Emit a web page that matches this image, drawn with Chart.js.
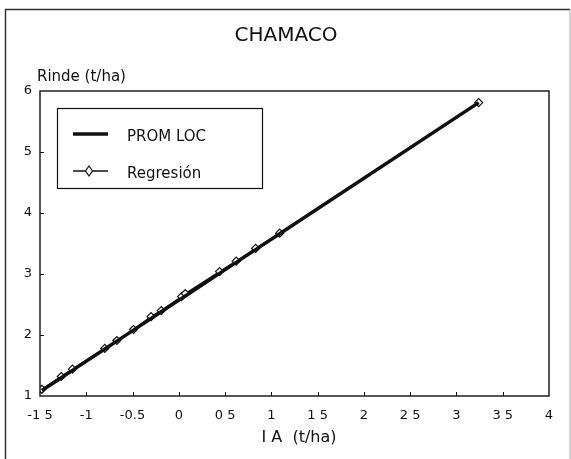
<!DOCTYPE html>
<html>
<head>
<meta charset="utf-8">
<title>CHAMACO</title>
<script src="https://cdn.jsdelivr.net/npm/chart.js@4.4.0/dist/chart.umd.min.js"></script>
<style>
    body { margin: 0; background: #fff; }
    canvas { display: block; }
</style>
</head>
<body>
<canvas id="miGrafico" width="571" height="459"></canvas>
<script>
// Datos
const indiceAmbiental = [-1.48, -1.27, -1.15, -0.80, -0.67, -0.49, -0.30, -0.19, 0.03, 0.07, 0.44, 0.62, 0.83, 1.09, 3.24];
const promLoc = [1.09, 1.30, 1.42, 1.77, 1.90, 2.08, 2.27, 2.38, 2.60, 2.64, 3.01, 3.19, 3.40, 3.66, 5.81];
const regresion = [1.11, 1.32, 1.44, 1.78, 1.91, 2.09, 2.30, 2.40, 2.63, 2.68, 3.04, 3.21, 3.42, 3.67, 5.81];

// Etiquetas de los ejes tal como aparecen
const etiquetasX = ["-1 5", "-1", "-0.5", "0", "0 5", "1", "1 5", "2", "2 5", "3", "3 5", "4"];
const etiquetasY = ["1", "2", "3", "4", "5", "6"];

const fuente = "'DejaVu Sans', 'Liberation Sans', sans-serif";
const tinta = '#111';

// Función para armar los puntos {x, y}
function armarPuntos(xs, ys) {
    return xs.map((x, i) => ({ x: x, y: ys[i] }));
}

// Plugin para el marco, las marcas de los ejes, los textos y la leyenda
const decoracion = {
    id: 'decoracion',
    afterDraw(chart) {
        const ctx = chart.ctx;
        const area = chart.chartArea;
        const sx = chart.scales.x;
        const sy = chart.scales.y;

        ctx.save();
        // Marco exterior
        ctx.strokeStyle = '#333';
        ctx.lineWidth = 1.5;
        ctx.beginPath();
        ctx.moveTo(5.5, 459);
        ctx.lineTo(5.5, 9.5);
        ctx.lineTo(570, 9.5);
        ctx.stroke();
        ctx.strokeStyle = '#aaa';
        ctx.lineWidth = 1;
        ctx.beginPath();
        ctx.moveTo(570, 9.5);
        ctx.lineTo(570, 459);
        ctx.stroke();

        // Marco del área del gráfico
        ctx.strokeStyle = tinta;
        ctx.lineWidth = 1.4;
        ctx.strokeRect(area.left, area.top, area.right - area.left, area.bottom - area.top);

        // Marcas hacia adentro
        ctx.lineWidth = 1;
        ctx.beginPath();
        sx.ticks.forEach((t) => {
            if (t.value > sx.min && t.value < sx.max) {
                const px = Math.round(sx.getPixelForValue(t.value)) + 0.5;
                ctx.moveTo(px, area.bottom);
                ctx.lineTo(px, area.bottom - 4);
            }
        });
        sy.ticks.forEach((t) => {
            if (t.value > sy.min && t.value < sy.max) {
                const py = Math.round(sy.getPixelForValue(t.value)) + 0.5;
                ctx.moveTo(area.left, py);
                ctx.lineTo(area.left + 4, py);
            }
        });
        ctx.stroke();

        // Textos
        ctx.fillStyle = tinta;
        ctx.textBaseline = 'middle';
        ctx.textAlign = 'center';
        ctx.font = '20px ' + fuente;
        ctx.fillText('CHAMACO', 286, 36);
        ctx.font = '16px ' + fuente;
        ctx.fillText('I A  (t/ha)', 299, 438);
        ctx.textAlign = 'left';
        ctx.font = '15px ' + fuente;
        ctx.fillText('Rinde (t/ha)', 37, 77);

        // Leyenda
        const ds = chart.data.datasets;
        ctx.strokeStyle = tinta;
        ctx.lineWidth = 1.2;
        ctx.strokeRect(57.5, 108.5, 205, 80);
        ctx.font = '15px ' + fuente;
        const filas = [134, 171];
        ds.forEach((d, i) => {
            const y = filas[i];
            ctx.strokeStyle = d.borderColor;
            ctx.lineWidth = Math.max(d.borderWidth, 1.6);
            ctx.beginPath();
            ctx.moveTo(73, y);
            ctx.lineTo(108, y);
            ctx.stroke();
            if (d.pointRadius > 0) {
                ctx.fillStyle = d.pointBackgroundColor;
                ctx.lineWidth = d.pointBorderWidth;
                ctx.beginPath();
                ctx.moveTo(89, y - 5);
                ctx.lineTo(92.5, y);
                ctx.lineTo(89, y + 5);
                ctx.lineTo(85.5, y);
                ctx.closePath();
                ctx.fill();
                ctx.stroke();
            }
            ctx.fillStyle = tinta;
            ctx.fillText(d.label, 127, y + 3);
        });
        ctx.restore();
    }
};

// Función para crear el gráfico
function crearGrafico() {
    const ctx = document.getElementById('miGrafico').getContext('2d');
    return new Chart(ctx, {
        type: 'scatter',
        data: {
            datasets: [{
                label: 'PROM LOC',
                data: armarPuntos(indiceAmbiental, promLoc),
                showLine: true,
                borderColor: tinta,
                borderWidth: 3.5,
                pointRadius: 0,
                pointHoverRadius: 0
            }, {
                label: 'Regresión',
                data: armarPuntos(indiceAmbiental, regresion),
                showLine: true,
                borderColor: tinta,
                borderWidth: 1.5,
                pointStyle: 'rectRot',
                pointRadius: 4,
                pointBackgroundColor: '#fff',
                pointBorderColor: tinta,
                pointBorderWidth: 1.2
            }]
        },
        options: {
            responsive: false,
            animation: false,
            layout: { padding: { top: 91, right: 22, left: 0, bottom: 0 } },
            plugins: {
                legend: { display: false },
                title: { display: false },
                tooltip: { enabled: false }
            },
            scales: {
                x: {
                    type: 'linear',
                    min: -1.5,
                    max: 4,
                    grid: { display: false, drawTicks: false },
                    border: { display: false },
                    afterFit: (scale) => { scale.height = 63; },
                    ticks: {
                        stepSize: 0.5,
                        padding: 12,
                        maxRotation: 0,
                        autoSkip: false,
                        color: tinta,
                        font: { family: fuente, size: 13 },
                        callback: (valor) => etiquetasX[Math.round((valor + 1.5) * 2)]
                    }
                },
                y: {
                    type: 'linear',
                    min: 1,
                    max: 6,
                    grid: { display: false, drawTicks: false },
                    border: { display: false },
                    afterFit: (scale) => { scale.width = 40; },
                    ticks: {
                        stepSize: 1,
                        padding: 8,
                        color: tinta,
                        font: { family: fuente, size: 13 },
                        callback: (valor) => etiquetasY[Math.round(valor - 1)]
                    }
                }
            }
        },
        plugins: [decoracion]
    });
}

document.addEventListener('DOMContentLoaded', () => {
    crearGrafico();
});
</script>
</body>
</html>
